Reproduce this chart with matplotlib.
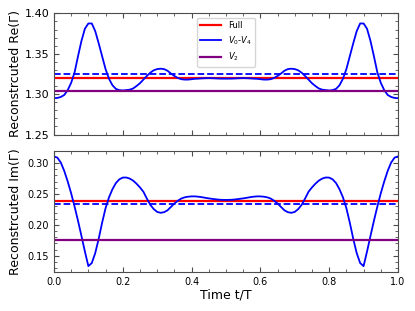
import matplotlib
matplotlib.use("Agg")
import matplotlib.pyplot as plt
from matplotlib.ticker import AutoMinorLocator, MultipleLocator, FormatStrFormatter
import numpy as np

t = np.linspace(0.0, 1.0, 101)

re_v04 = [1.2950, 1.2953, 1.2965, 1.2990, 1.3050, 1.3140, 1.3270, 1.3470, 1.3660, 1.3810,
          1.3875, 1.3875, 1.3780, 1.3630, 1.3470, 1.3310, 1.3190, 1.3110, 1.3065, 1.3050,
          1.3045, 1.3050, 1.3055, 1.3070, 1.3100, 1.3135, 1.3180, 1.3225, 1.3265, 1.3295,
          1.3310, 1.3315, 1.3310, 1.3290, 1.3255, 1.3225, 1.3200, 1.3185, 1.3180, 1.3180,
          1.3185, 1.3190, 1.3192, 1.3195, 1.3197, 1.3198, 1.3197, 1.3195, 1.3193, 1.3192,
          1.3192,
          1.3192, 1.3193, 1.3195, 1.3197, 1.3198, 1.3197, 1.3195, 1.3192, 1.3190, 1.3185,
          1.3180, 1.3180, 1.3185, 1.3200, 1.3225, 1.3255, 1.3290, 1.3310, 1.3315, 1.3310,
          1.3295, 1.3265, 1.3225, 1.3180, 1.3135, 1.3100, 1.3070, 1.3055, 1.3050, 1.3045,
          1.3050, 1.3065, 1.3110, 1.3190, 1.3310, 1.3470, 1.3630, 1.3780, 1.3875, 1.3875,
          1.3810, 1.3660, 1.3470, 1.3270, 1.3140, 1.3050, 1.2990, 1.2965, 1.2953, 1.2950]

im_v04 = [0.3105, 0.3085, 0.3005, 0.2870, 0.2700, 0.2510, 0.2295, 0.2065, 0.1820, 0.1570,
          0.1335, 0.1385, 0.1545, 0.1775, 0.2035, 0.2270, 0.2445, 0.2575, 0.2675, 0.2735,
          0.2763, 0.2765, 0.2748, 0.2715, 0.2665, 0.2605, 0.2535, 0.2425, 0.2325, 0.2255,
          0.2210, 0.2195, 0.2205, 0.2235, 0.2290, 0.2345, 0.2390, 0.2425, 0.2445, 0.2455,
          0.2460, 0.2460, 0.2455, 0.2447, 0.2437, 0.2428, 0.2420, 0.2413, 0.2407, 0.2404,
          0.2403,
          0.2404, 0.2407, 0.2413, 0.2420, 0.2428, 0.2437, 0.2447, 0.2455, 0.2460, 0.2460,
          0.2455, 0.2445, 0.2425, 0.2390, 0.2345, 0.2290, 0.2235, 0.2205, 0.2195, 0.2210,
          0.2255, 0.2325, 0.2425, 0.2535, 0.2605, 0.2665, 0.2715, 0.2748, 0.2765, 0.2763,
          0.2735, 0.2675, 0.2575, 0.2445, 0.2270, 0.2035, 0.1775, 0.1545, 0.1385, 0.1335,
          0.1570, 0.1820, 0.2065, 0.2295, 0.2510, 0.2700, 0.2870, 0.3005, 0.3085, 0.3105]

re_full = 1.320
re_mean = 1.325
re_v2 = 1.304
im_full = 0.239
im_mean = 0.234
im_v2 = 0.175

fig = plt.figure(figsize=(4.15, 3.11), dpi=100)
ax1 = fig.add_axes([0.130, 0.5675, 0.829, 0.3895])
ax2 = fig.add_axes([0.130, 0.1254, 0.829, 0.3876])

spine_col = '0.3'

ax1.axhline(re_full, color='red', lw=1.6, label='Full')
ax1.plot(t, re_v04, color='blue', lw=1.3, label='$V_0$-$V_4$')
ax1.axhline(re_mean, color='blue', lw=1.3, ls='--')
ax1.axhline(re_v2, color='purple', lw=1.6, label='$V_2$')

ax2.axhline(im_full, color='red', lw=1.6)
ax2.plot(t, im_v04, color='blue', lw=1.3)
ax2.axhline(im_mean, color='blue', lw=1.3, ls='--')
ax2.axhline(im_v2, color='purple', lw=1.6)

ax1.set_xlim(0, 1)
ax2.set_xlim(0, 1)
ax1.set_ylim(1.25, 1.40)
ax2.set_ylim(0.124, 0.3185)
ax1.yaxis.set_major_locator(MultipleLocator(0.05))
ax2.yaxis.set_major_locator(MultipleLocator(0.05))
ax1.xaxis.set_major_locator(MultipleLocator(0.2))
ax2.xaxis.set_major_locator(MultipleLocator(0.2))

for ax in (ax1, ax2):
    ax.xaxis.set_minor_locator(AutoMinorLocator())
    ax.yaxis.set_minor_locator(AutoMinorLocator())
    ax.tick_params(which='both', direction='in', top=True, right=True, colors=spine_col,
                   labelcolor='black')
    ax.tick_params(which='major', length=3.5, width=0.8)
    ax.tick_params(which='minor', length=2, width=0.6)
    for s in ax.spines.values():
        s.set_color(spine_col)

ax1.tick_params(axis='y', labelsize=8)
ax1.tick_params(axis='x', labelbottom=False)
ax2.tick_params(axis='both', labelsize=7)
ax1.yaxis.set_major_formatter(FormatStrFormatter('%.2f'))
ax2.yaxis.set_major_formatter(FormatStrFormatter('%.2f'))
ax2.xaxis.set_major_formatter(FormatStrFormatter('%.1f'))

ax1.set_ylabel('Reconstrcuted Re(Γ)', fontsize=9)
ax2.set_ylabel('Reconstrcuted Im(Γ)', fontsize=9)
ax2.set_xlabel('Time t/T', fontsize=9, labelpad=1.5)
ax1.yaxis.set_label_coords(-0.093, 0.5)
ax2.yaxis.set_label_coords(-0.093, 0.5)

ax1.legend(loc='upper center', fontsize=6, handlelength=2.5, framealpha=0.8)

fig.savefig('out.png', dpi=100)
